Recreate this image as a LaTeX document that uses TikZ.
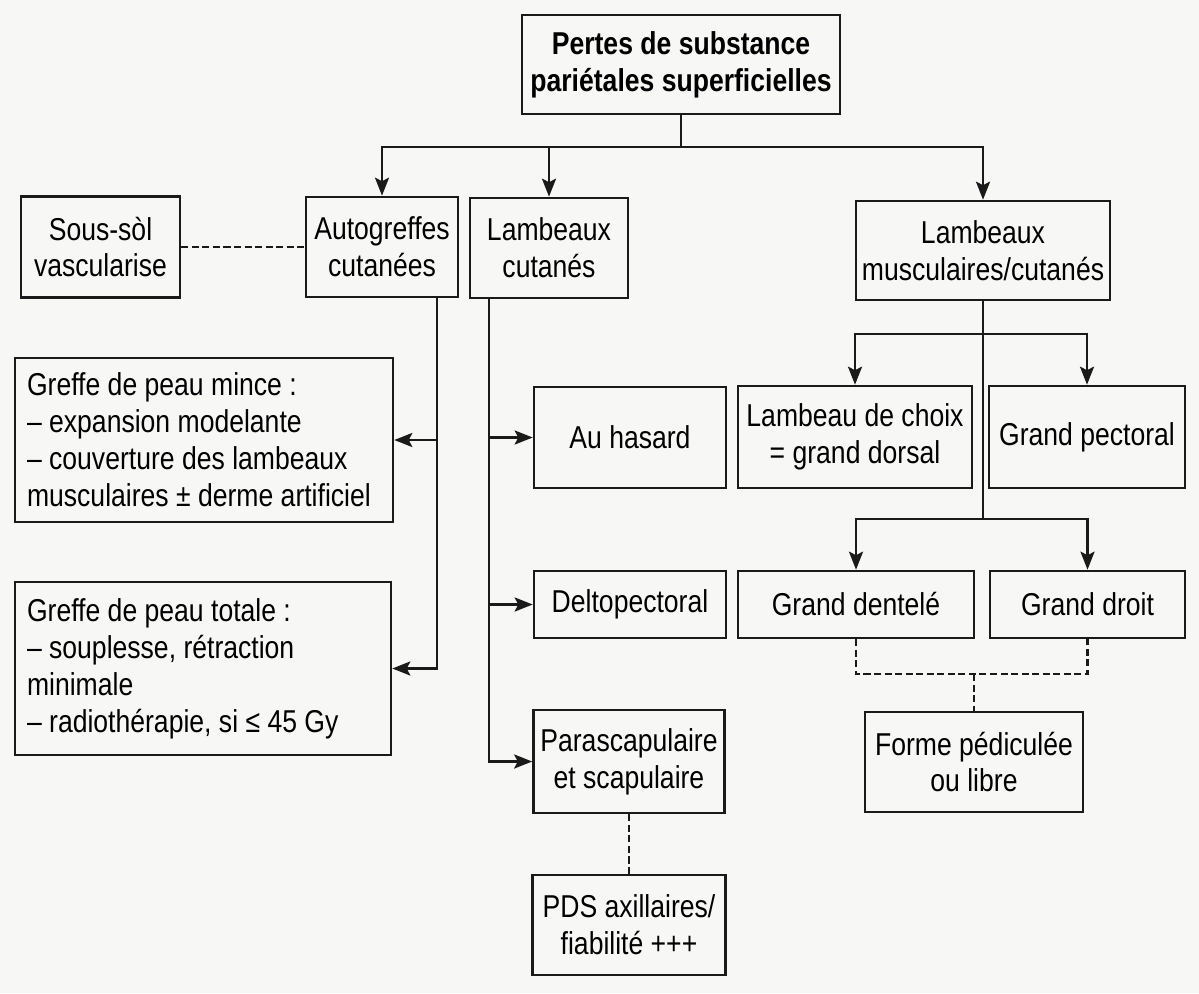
\documentclass[tikz,border=0pt]{standalone}
\usepackage{fontspec}
\setmainfont{Liberation Sans}[FakeStretch=0.84]
\usetikzlibrary{arrows.meta}

\definecolor{ink}{HTML}{1A1A1A}
\definecolor{paper}{HTML}{F7F7F5}
\newcommand{\boxfont}{\fontsize{18}{21}\selectfont}

\begin{document}
\begin{tikzpicture}[x=0.02cm, y=-0.02cm,
  box/.style={draw=ink, line width=1.5pt, align=center, inner sep=0pt, font=\boxfont},
  listbox/.style={box, align=flush left, inner xsep=0.24cm},
  arr/.style={draw=ink, line width=1.4pt, -{Stealth[length=0.36cm, width=0.28cm, inset=0.07cm]}},
  link/.style={draw=ink, line width=1.4pt},
  dlink/.style={link, dash pattern=on 4pt off 2pt}]
% Page
\fill[paper] (0,0) rectangle (1199,993);
\useasboundingbox (0,0) rectangle (1199,993);
% --- Root ---
\node[box, font=\boxfont\bfseries, minimum width=6.36cm, minimum height=1.98cm] (pertes) at (681,64.5)
  {Pertes de substance\\pariétales superficielles};
% --- First level ---
\node[box, minimum width=3.18cm, minimum height=2.02cm] (soussol) at (100.5,247) {Sous-sòl\\vascularise};
\node[box, minimum width=3.04cm, minimum height=2.0cm] (autog) at (382,247) {Autogreffes\\cutanées};
\node[box, minimum width=3.16cm, minimum height=2.0cm] (lcut) at (549,248) {Lambeaux\\cutanés};
\node[box, minimum width=5.08cm, minimum height=1.98cm] (lmusc) at (983,250.5) {Lambeaux\\musculaires/cutanés};
% --- Skin grafts ---
\node[listbox, text width=7.08cm, minimum height=3.28cm] (mince) at (204,440)
  {Greffe de peau mince :\\– expansion modelante\\– couverture des lambeaux\\musculaires ± derme artificiel};
\node[listbox, text width=7.04cm, minimum height=3.46cm] (totale) at (203,668.5)
  {Greffe de peau totale :\\– souplesse, rétraction\\minimale\\– radiothérapie, si ≤ 45 Gy};
% --- Skin flaps ---
\node[box, minimum width=3.84cm, minimum height=2.02cm] (hasard) at (630,437.5) {Au hasard};
\node[box, minimum width=3.84cm, minimum height=1.34cm] (delto) at (630,604.5) {Deltopectoral};
\node[box, minimum width=3.82cm, minimum height=2.06cm] (parasc) at (629,761.5) {Parascapulaire\\et scapulaire};
\node[box, minimum width=3.86cm, minimum height=2.0cm] (pds) at (629,925) {PDS axillaires/\\fiabilité +++};
% --- Muscle flaps ---
\node[box, minimum width=4.68cm, minimum height=2.04cm] (choix) at (855,437) {Lambeau de choix\\= grand dorsal};
\node[box, minimum width=3.92cm, minimum height=2.04cm] (pect) at (1087,437) {Grand pectoral};
\node[box, minimum width=4.72cm, minimum height=1.34cm] (dent) at (856,604.5) {Grand dentelé};
\node[box, minimum width=3.9cm, minimum height=1.34cm] (droit) at (1087.5,604.5) {Grand droit};
\node[box, minimum width=4.36cm, minimum height=2.0cm] (forme) at (974,762) {Forme pédiculée\\ou libre};
% Connectors
\coordinate (split) at (681,147);
\draw[arr] (pertes.south) -- (split) -| (autog.north);
\draw[arr] (split) -| (lcut.north);
\draw[arr] (split) -| (lmusc.north);
\draw[dlink] (soussol.east) -- (autog.west);
\draw[arr] ([xshift=1.1cm]autog.south) |- (mince.east);
\draw[arr] ([xshift=1.1cm]autog.south) |- (totale.east);
\draw[arr] ([xshift=-1.2cm]lcut.south) |- (hasard.west);
\draw[arr] ([xshift=-1.2cm]lcut.south) |- (delto.west);
\draw[arr] ([xshift=-1.2cm]lcut.south) |- (parasc.west);
\draw[dlink] (parasc.south) -- (pds.north);
\coordinate (fork1) at (983,334);
\coordinate (fork2) at (983,519);
\draw[link] (lmusc.south) -- (fork2);
\draw[arr] (fork1) -| (choix.north);
\draw[arr] (fork1) -| (pect.north);
\draw[arr] (fork2) -| (dent.north);
\draw[arr] (fork2) -| (droit.north);
\coordinate (join) at (974,674);
\draw[dlink] (dent.south) |- (join) -| (droit.south);
\draw[dlink] (join) -- (forme.north);
\end{tikzpicture}
\end{document}
